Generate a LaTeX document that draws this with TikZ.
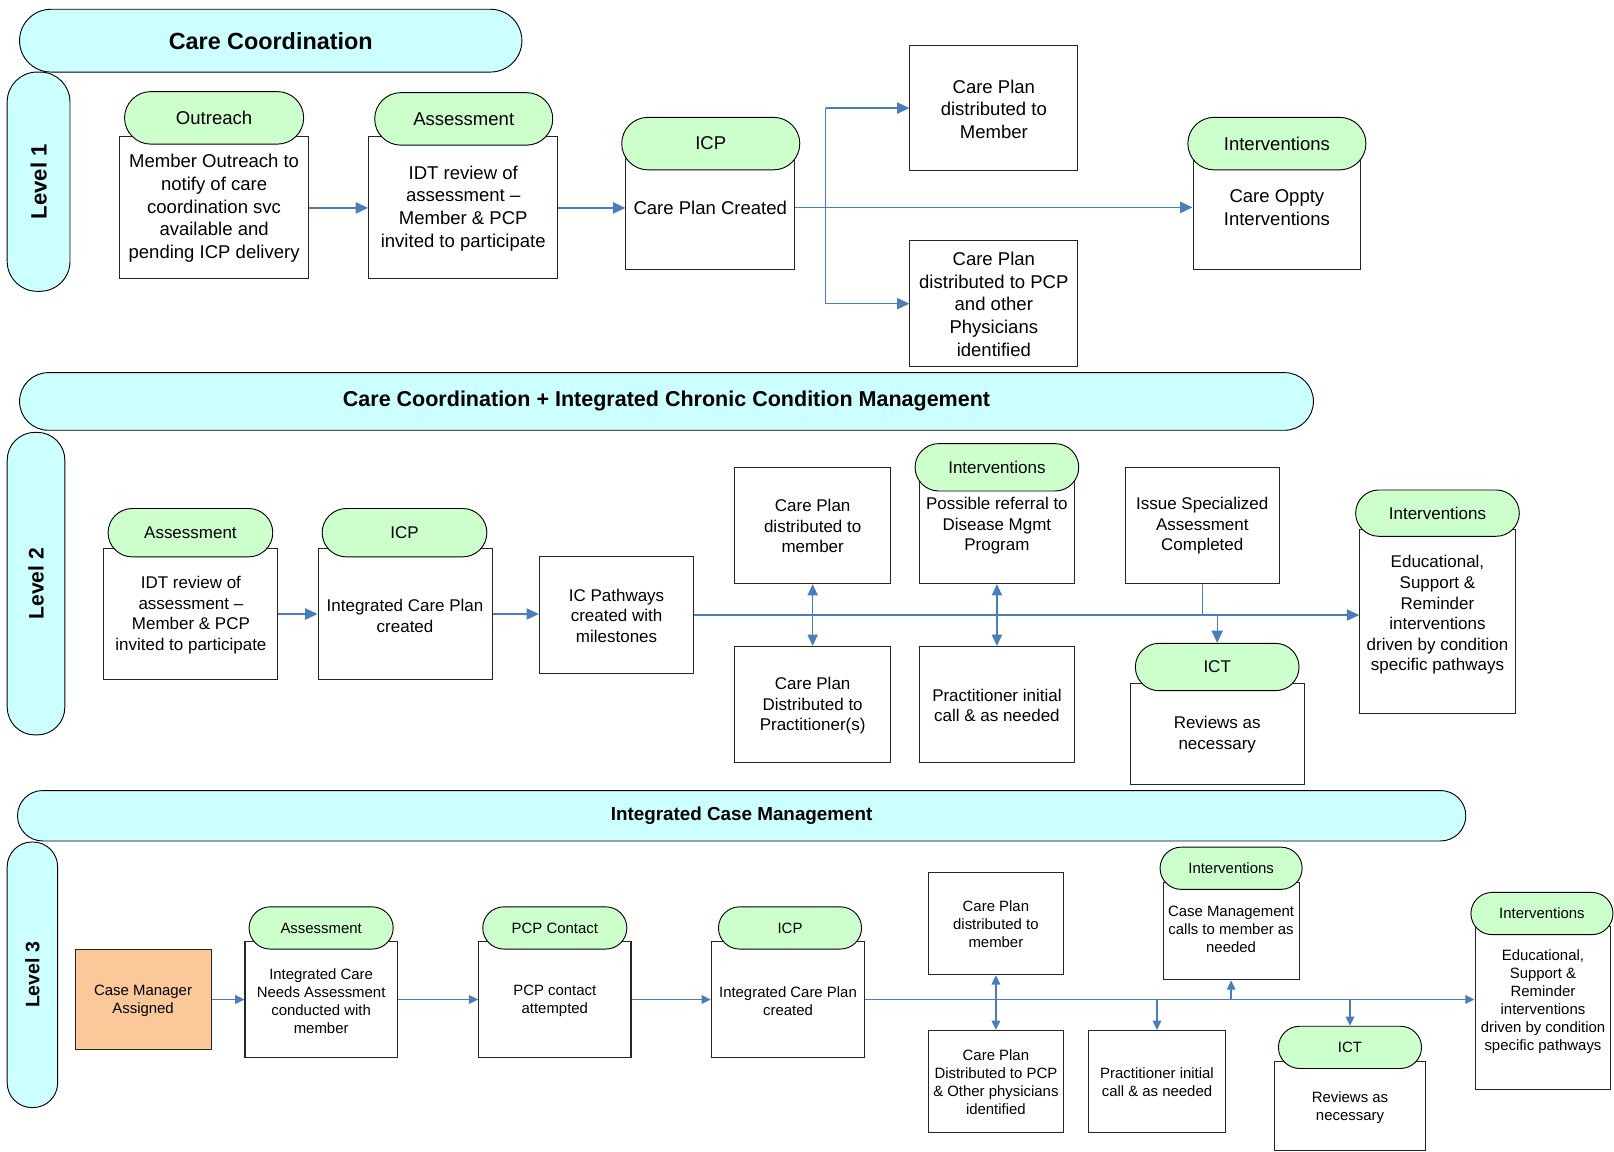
\documentclass[tikz,border=0pt]{standalone}
\usepackage{fontspec}
\setmainfont{Liberation Sans}
\usetikzlibrary{arrows.meta,shapes.misc}
\definecolor{bancyan}{RGB}{204,255,255}
\definecolor{pillgreen}{RGB}{204,255,204}
\definecolor{cmorange}{RGB}{251,201,153}
\definecolor{lblue}{RGB}{74,126,187}
\newcommand\fa{\fontsize{18}{22}\selectfont}
\newcommand\fb{\fontsize{16.5}{20}\selectfont}
\newcommand\fc{\fontsize{14.5}{17.5}\selectfont}
\begin{document}
\begin{tikzpicture}[x=1pt,y=-1pt,
  box/.style 2 args={draw=black!85, line width=1pt, fill=white, inner sep=0pt, minimum width=#1pt, minimum height=#2pt},
  pill/.style 2 args={rounded rectangle, draw=black, line width=0.9pt, fill=pillgreen, inner sep=0pt, minimum width=#1pt, minimum height=#2pt},
  banner/.style 2 args={rounded rectangle, draw=black, line width=0.9pt, fill=bancyan, inner sep=0pt, minimum width=#1pt, minimum height=#2pt},
  lev/.style 2 args={rectangle, draw=black, line width=0.9pt, fill=bancyan, inner sep=0pt, minimum width=#1pt, minimum height=#2pt},
  txt/.style={align=center, inner sep=0pt, yshift=-1.5pt},
  arr/.style={draw=lblue, line width=1.2pt, -{Triangle[length=12pt,width=11pt]}},
  darr/.style={draw=lblue, line width=1.2pt, {Triangle[length=11pt,width=10pt]}-{Triangle[length=11pt,width=10pt]}},
  arrs/.style={draw=lblue, line width=1.2pt, -{Triangle[length=9pt,width=8.5pt]}},
  darrs/.style={draw=lblue, line width=1.2pt, {Triangle[length=9pt,width=8.5pt]}-{Triangle[length=9pt,width=8.5pt]}},
  conn/.style={draw=lblue, line width=1.2pt}]
\fill[white] (0,0) rectangle (1568,1119);
\useasboundingbox (0,0) rectangle (1568,1119);

% ================= LEVEL 1 =================
\node[lev={61}{213}, rounded corners=29pt] (lev1) at (37.5,176.5) {};
\node[font=\bfseries\fontsize{21.5}{24}\selectfont, rotate=90] (lev1t) at (lev1) {Level 1};
\node[banner={488}{61}, font=\bfseries\fontsize{22.7}{26}\selectfont] (ban1) at (263,39.5) {Care Coordination};

\node[box={184}{138}] (outb) at (208,202) {};
\node[txt, font=\fa] (outt) at (208,201) {Member Outreach to\\notify of care\\coordination svc\\available and\\pending ICP delivery};
\node[pill={174}{51}, font=\fa] (outp) at (208,114.5) {Outreach};

\node[box={184}{138}] (ass1b) at (450,202) {};
\node[txt, font=\fa] (ass1t) at (450,201) {IDT review of\\assessment –\\Member \& PCP\\invited to participate};
\node[pill={173}{51}, font=\fa] (ass1p) at (450.5,115.5) {Assessment};

\node[box={164}{112}] (icp1b) at (690,206) {};
\node[txt, font=\fa] (icp1t) at (690,200) {Care Plan Created};
\node[pill={173}{51}, font=\fa] (icp1p) at (690.5,139.5) {ICP};

\node[box={163}{122}] (cpmb) at (965.5,105) {};
\node[txt, font=\fa] (cpmt) at (965.5,104.5) {Care Plan\\distributed to\\Member};

\node[box={163}{122}] (cppb) at (965.5,295) {};
\node[txt, font=\fa] (cppt) at (965.5,294) {Care Plan\\distributed to PCP\\and other\\Physicians\\identified};

\node[box={163}{112}] (int1b) at (1240.5,206) {};
\node[txt, font=\fa] (int1t) at (1240.5,200) {Care Oppty\\Interventions};
\node[pill={173}{51}, font=\fa] (int1p) at (1240.5,139.5) {Interventions};

\draw[arr] (outb.east) -- (outb.east -| ass1b.west);
\draw[arr] (ass1b.east) -- (ass1b.east -| icp1b.west);
\draw[arr] (icp1t -| icp1b.east) -- (icp1t -| int1b.west);
\coordinate (br1) at (802,200);
\draw[conn] (br1 |- cpmb) -- (br1 |- cppb);
\draw[arr] (br1 |- cpmb) -- (cpmb.west);
\draw[arr] (br1 |- cppb) -- (cppb.west);

% ================= LEVEL 2 =================
\node[lev={56}{294}, rounded corners=27pt] (lev2) at (35,567) {};
\node[font=\bfseries\fontsize{20.5}{24}\selectfont, rotate=90] (lev2t) at (lev2) {Level 2};
\node[banner={1257}{56}, font=\bfseries\fontsize{20.9}{24}\selectfont] (ban2) at (647.5,390) {Care Coordination + Integrated Chronic Condition Management};

\node[box={169}{127}] (ass2b) at (185.5,596.5) {};
\node[txt, font=\fb] (ass2t) at (185.5,596) {IDT review of\\assessment –\\Member \& PCP\\invited to participate};
\node[pill={160}{47}, font=\fb] (ass2p) at (185,517.5) {Assessment};

\node[box={169}{127}] (icp2b) at (393.5,596.5) {};
\node[txt, font=\fb] (icp2t) at (393.5,597) {Integrated Care Plan\\created};
\node[pill={160}{47}, font=\fb] (icp2p) at (393,517.5) {ICP};

\node[box={150}{113}] (icpb) at (599,597.5) {};
\node[txt, font=\fb] (icpt) at (599,596.5) {IC Pathways\\created with\\milestones};

\node[box={151}{113}] (cpm2b) at (789.5,510.5) {};
\node[txt, font=\fb] (cpm2t) at (789.5,509.5) {Care Plan\\distributed to\\member};

\node[box={151}{113}] (cpp2b) at (789.5,684.5) {};
\node[txt, font=\fb] (cpp2t) at (789.5,684) {Care Plan\\Distributed to\\Practitioner(s)};

\node[box={151}{113}] (ref2b) at (968.5,510.5) {};
\node[txt, font=\fb] (ref2t) at (968.5,509.5) {Possible referral to\\Disease Mgmt\\Program};
\node[pill={159}{46}, font=\fb] (int2p) at (968.5,454) {Interventions};

\node[box={151}{113}] (prac2b) at (968.5,684.5) {};
\node[txt, font=\fb] (prac2t) at (968.5,684) {Practitioner initial\\call \& as needed};

\node[box={150}{113}] (iss2b) at (1168,510.5) {};
\node[txt, font=\fb] (iss2t) at (1168,509.5) {Issue Specialized\\Assessment\\Completed};

\node[box={169}{98}] (ict2b) at (1182.5,713) {};
\node[txt, font=\fb] (ict2t) at (1182.5,712) {Reviews as\\necessary};
\node[pill={159}{46}, font=\fb] (ict2p) at (1182.5,648) {ICT};

\node[box={151}{179}] (edu2b) at (1396.5,603.5) {};
\node[txt, font=\fb] (edu2t) at (1396.5,596) {Educational,\\Support \&\\Reminder\\interventions\\driven by condition\\specific pathways};
\node[pill={159}{45}, font=\fb] (int2bp) at (1396.5,498.5) {Interventions};

\draw[arr] (ass2b.east) -- (ass2b.east -| icp2b.west);
\draw[arr] (icp2b.east) -- (icp2b.east -| icpb.west);
\draw[arr] (icpb.east) -- (icpb.east -| edu2b.west);
\draw[darr] (cpm2b.south) -- (cpp2b.north);
\draw[darr] (ref2b.south) -- (prac2b.north);
\draw[conn] (iss2b.south) -- (iss2b.south |- icpb.east);
\draw[arr] (ict2p.north |- icpb.east) -- (ict2p.north);

% ================= LEVEL 3 =================
\node[lev={49}{258}, rounded corners=24pt] (lev3) at (31.5,947) {};
\node[font=\bfseries\fontsize{19}{22}\selectfont, rotate=90] (lev3t) at (lev3) {Level 3};
\node[banner={1407}{49}, font=\bfseries\fontsize{18.3}{22}\selectfont] (ban3) at (720.5,792.5) {Integrated Case Management};

\node[box={132}{98}, fill=cmorange] (cmab) at (139,971) {};
\node[txt, font=\fc] (cmat) at (139,971) {Case Manager\\Assigned};

\node[box={148}{112}] (ass3b) at (312,971) {};
\node[txt, font=\fc] (ass3t) at (312,971) {Integrated Care\\Needs Assessment\\conducted with\\member};
\node[pill={140}{41}, font=\fc] (ass3p) at (312,901.5) {Assessment};

\node[box={148}{112}] (pcp3b) at (539,971) {};
\node[txt, font=\fc] (pcp3t) at (539,971) {PCP contact\\attempted};
\node[pill={140}{41}, font=\fc] (pcp3p) at (539,901.5) {PCP Contact};

\node[box={149}{112}] (icp3b) at (765.5,971) {};
\node[txt, font=\fc] (icp3t) at (765.5,971) {Integrated Care Plan\\created};
\node[pill={139}{41}, font=\fc] (icp3p) at (767.5,901.5) {ICP};

\node[box={131}{99}] (cpm3b) at (967.5,897.5) {};
\node[txt, font=\fc] (cpm3t) at (967.5,896.5) {Care Plan\\distributed to\\member};

\node[box={131}{99}] (cpp3b) at (967.5,1050.5) {};
\node[txt, font=\fc] (cpp3t) at (967.5,1049.5) {Care Plan\\Distributed to PCP\\\& Other physicians\\identified};

\node[box={134}{99}] (prac3b) at (1124,1050.5) {};
\node[txt, font=\fc] (prac3t) at (1124,1049.5) {Practitioner initial\\call \& as needed};

\node[box={132}{95}] (cmc3b) at (1196,904.5) {};
\node[txt, font=\fc] (cmc3t) at (1196,901) {Case Management\\calls to member as\\needed};
\node[pill={138}{41}, font=\fc] (int3p) at (1196,843.5) {Interventions};

\node[box={147}{87}] (ict3b) at (1311.5,1074.5) {};
\node[txt, font=\fc] (ict3t) at (1311.5,1075) {Reviews as\\necessary};
\node[pill={139}{41}, font=\fc] (ict3p) at (1311.5,1017.5) {ICT};

\node[box={132}{158}] (edu3b) at (1499,979) {};
\node[txt, font=\fc] (edu3t) at (1499,972) {Educational,\\Support \&\\Reminder\\interventions\\driven by condition\\specific pathways};
\node[pill={138}{41}, font=\fc] (int3bp) at (1498,887.5) {Interventions};

\draw[arrs] (cmab.east) -- (cmab.east -| ass3b.west);
\draw[arrs] (ass3b.east) -- (ass3b.east -| pcp3b.west);
\draw[arrs] (pcp3b.east) -- (pcp3b.east -| icp3b.west);
\draw[arrs] (icp3b.east) -- (icp3b.east -| edu3b.west);
\draw[darrs] (cpm3b.south) -- (cpp3b.north);
\draw[arrs] (prac3b.north |- icp3b.east) -- (prac3b.north);
\draw[arrs] (cmc3b.south |- icp3b.east) -- (cmc3b.south);
\draw[arrs] (ict3p.north |- icp3b.east) -- (ict3p.north);
\end{tikzpicture}
\end{document}
